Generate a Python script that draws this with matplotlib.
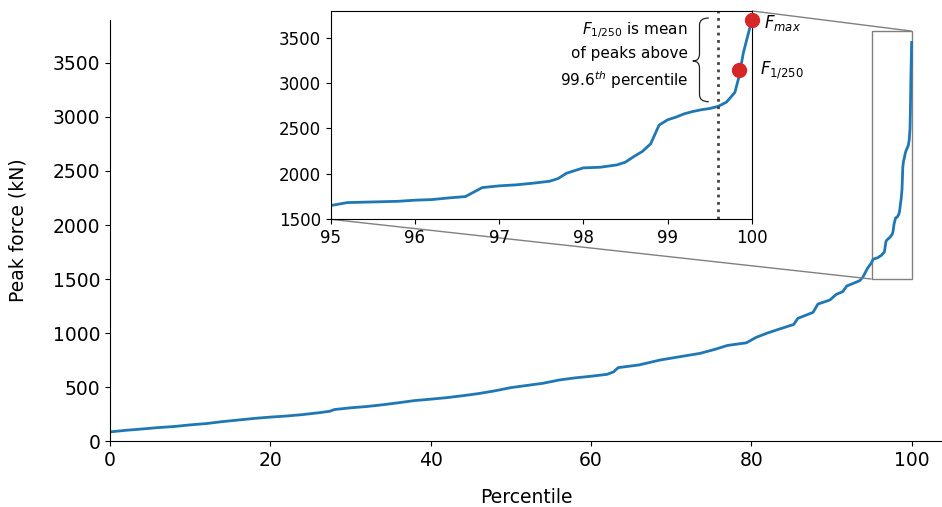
import numpy as np
import matplotlib
matplotlib.use('Agg')
import matplotlib.pyplot as plt
from matplotlib.path import Path
from matplotlib.patches import PathPatch
from mpl_toolkits.axes_grid1.inset_locator import mark_inset

# Sorted peak forces (percentile, kN)
pct_low = [0, 2, 4, 6, 8, 10, 12, 14, 16, 18, 20, 22, 24, 26, 27.4, 28, 30, 32, 34,
           36, 38, 40, 42, 44, 46, 48, 50, 52, 54, 56, 58, 60, 62, 62.8, 63.4, 66,
           68.6, 71, 73.6, 75.5, 77, 79.4, 80.6, 82, 83.5, 85.3, 85.8, 87.7, 88.3,
           89.8, 90.6, 91.4, 91.9, 93.5, 93.9, 94.5]
force_low = [85, 100, 112, 125, 135, 150, 162, 180, 195, 210, 222, 232, 245, 262, 276, 292,
             308, 320, 336, 355, 375, 388, 402, 420, 440, 465, 495, 515, 535, 565, 585, 600,
             618, 640, 680, 705, 750, 780, 812, 850, 885, 910, 960, 1000, 1037, 1080, 1136,
             1191, 1268, 1306, 1358, 1383, 1435, 1484, 1515, 1600]

pct_high = [95.0, 95.2, 95.5, 95.8, 96.0, 96.2, 96.4, 96.6, 96.8, 97.0, 97.2, 97.4, 97.6,
            97.7, 97.8, 98.0, 98.2, 98.4, 98.5, 98.6, 98.7, 98.8, 98.9, 99.0, 99.1, 99.2,
            99.3, 99.4, 99.5, 99.6, 99.7, 99.8, 99.85, 99.9, 100.0]
force_high = [1651, 1684, 1691, 1698, 1710, 1717, 1735, 1750, 1849, 1868, 1879, 1897, 1919,
              1948, 2007, 2066, 2073, 2099, 2129, 2191, 2246, 2331, 2537, 2595, 2625, 2662,
              2687, 2706, 2720, 2743, 2790, 2897, 3073, 3331, 3690]

pct = np.array(pct_low + pct_high)
force = np.array(force_low + force_high)

f_max = (100.0, 3698)
f_250 = (99.85, 3139)
cutoff = 99.6

fig = plt.figure(figsize=(9.42, 5.07), dpi=100)
ax = fig.add_axes([0.1168, 0.130, 0.885, 0.830])
ax.plot(pct, force, color='#1f77b4', lw=2)
ax.set_xlim(0, 104)
ax.set_ylim(0, 3895)
ax.set_xticks([0, 20, 40, 60, 80, 100])
ax.set_yticks(np.arange(0, 3501, 500))
ax.tick_params(labelsize=13.5)
ax.spines['top'].set_visible(False)
ax.spines['right'].set_visible(False)
ax.set_xlabel('Percentile', fontsize=13.5, labelpad=13)
ax.set_ylabel('Peak force (kN)', fontsize=13.5, labelpad=18)

# Zoomed inset on the top percentiles
axins = fig.add_axes([0.351, 0.5675, 0.447, 0.411])
axins.plot(pct, force, color='#1f77b4', lw=2)
axins.set_xlim(95, 100)
axins.set_ylim(1500, 3795)
axins.set_xticks([95, 96, 97, 98, 99, 100])
axins.set_yticks([1500, 2000, 2500, 3000, 3500])
axins.tick_params(labelsize=12)
axins.axvline(cutoff, color='#444444', ls=':', lw=2)
axins.plot(*f_max, 'o', color='#d62728', ms=10, clip_on=False, zorder=5)
axins.plot(*f_250, 'o', color='#d62728', ms=10, clip_on=False, zorder=5)
axins.text(100.15, 3660, '$F_{max}$', fontsize=12, va='center')
axins.text(100.1, 3140, '$F_{1/250}$', fontsize=12, va='center')
axins.text(99.24, 3300, '$F_{1/250}$ is mean\nof peaks above\n99.6$^{th}$ percentile',
           fontsize=11, ha='right', va='center', linespacing=1.5)

# curly brace next to the note
xt, xs, xc = 99.49, 99.38, 99.30
yt, ym, yb = 3717, 3243, 2795
r = 77
verts = [(xt, yt), (xs, yt), (xs, yt - r), (xs, ym + r), (xs, ym), (xc, ym),
         (xs, ym), (xs, ym - r), (xs, yb + r), (xs, yb), (xt, yb)]
codes = [Path.MOVETO, Path.CURVE3, Path.CURVE3, Path.LINETO, Path.CURVE3, Path.CURVE3,
         Path.CURVE3, Path.CURVE3, Path.LINETO, Path.CURVE3, Path.CURVE3]
axins.add_patch(PathPatch(Path(verts, codes), fc='none', ec='#222222', lw=0.9))

mark_inset(ax, axins, loc1=1, loc2=3, fc='none', ec='0.5')

plt.savefig('out.png', dpi=100)
